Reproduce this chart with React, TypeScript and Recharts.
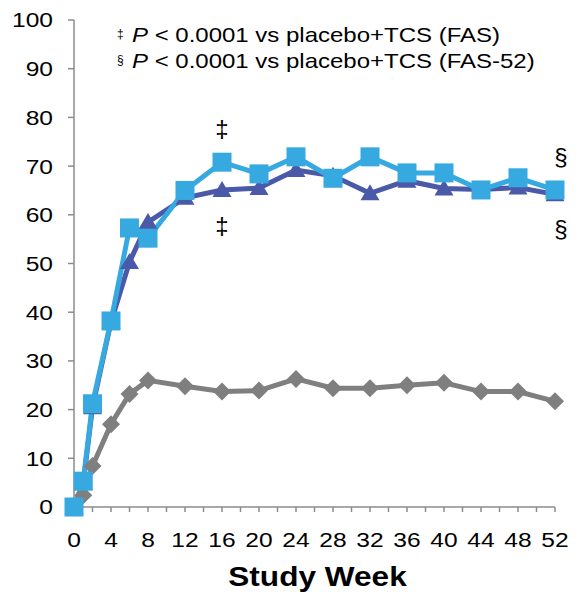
import React from 'react';
import { LineChart, Line, XAxis, YAxis, ReferenceDot } from 'recharts';

const weeks = [0, 1, 2, 4, 6, 8, 12, 16, 20, 24, 28, 32, 36, 40, 44, 48, 52];
const placebo = [0, 2.4, 8.4, 17, 23.2, 26, 24.8, 23.7, 23.9, 26.3, 24.4, 24.4, 25, 25.5, 23.7, 23.7, 21.7];
const darkSeries = [0, 5, 20.5, 38, 50.3, 58.5, 63.5, 65.1, 65.5, 69.2, 68, 64.4, 67, 65.4, 65.2, 65.6, 64.2];
const lightSeries = [0, 5.3, 21.2, 38.2, 57.3, 55.2, 65, 70.8, 68.4, 71.9, 67.5, 71.9, 68.6, 68.6, 65.1, 67.6, 65.1];
const xTicks = [0, 2, 4, 6, 8, 10, 12, 14, 16, 18, 20, 22, 24, 26, 28, 30, 32, 34, 36, 38, 40, 42, 44, 46, 48, 50, 52];
const yTicks = [0, 10, 20, 30, 40, 50, 60, 70, 80, 90, 100];
const annotations = [
  { x: 16, y: 77.8, text: '‡' },
  { x: 16, y: 57.9, text: '‡' },
  { x: 52.65, y: 72, text: '§' },
  { x: 52.65, y: 57.2, text: '§' },
];
const legendLines = [
  { mark: '‡', text: ' < 0.0001 vs placebo+TCS (FAS)' },
  { mark: '§', text: ' < 0.0001 vs placebo+TCS (FAS-52)' },
];

const data = weeks.map((w, i) => ({ week: w, placebo: placebo[i], dark: darkSeries[i], light: lightSeries[i] }));

const FONT = '"Liberation Sans", Arial, sans-serif';
const GRAY = '#7f7f7f';
const DARK = '#4b5aa8';
const LIGHT = '#36a9e1';
const AXIS = '#8c8c8c';
const SX = 1.17;

const Diamond = (props: any) => {
  const { cx, cy } = props;
  if (cx == null || cy == null) return null;
  const r = 9;
  return <path key={`d${cx}`} d={`M${cx},${cy - r}L${cx + r},${cy}L${cx},${cy + r}L${cx - r},${cy}Z`} fill={GRAY} />;
};
const Triangle = (props: any) => {
  const { cx, cy } = props;
  if (cx == null || cy == null) return null;
  return <path key={`t${cx}`} d={`M${cx},${cy - 9}L${cx + 9.5},${cy + 7}L${cx - 9.5},${cy + 7}Z`} fill={DARK} />;
};
const Square = (props: any) => {
  const { cx, cy } = props;
  if (cx == null || cy == null) return null;
  const h = 9.5;
  return <rect key={`s${cx}`} x={cx - h} y={cy - h} width={2 * h} height={2 * h} fill={LIGHT} />;
};

const XTick = (props: any) => {
  const { x, y, payload } = props;
  if (payload.value % 4 !== 0) return null;
  return (
    <g transform={`translate(${x},${y}) scale(${SX},1)`}>
      <text x={0} y={0} dy="0.71em" textAnchor="middle" fontSize={21} fontFamily={FONT} fill="#000">
        {payload.value}
      </text>
    </g>
  );
};

const YTick = (props: any) => {
  const { x, y, payload } = props;
  return (
    <g transform={`translate(${x},${y}) scale(${SX},1)`}>
      <text x={0} y={0} dy="0.355em" textAnchor="end" fontSize={21} fontFamily={FONT} fill="#000">
        {payload.value}
      </text>
    </g>
  );
};

const XLabel = (props: any) => {
  const vb = props.viewBox || {};
  const cx = vb.x + vb.width / 2 + 3;
  const by = vb.y + vb.height - 6;
  return (
    <g transform={`translate(${cx},${by}) scale(${SX},1)`}>
      <text x={0} y={0} textAnchor="middle" fontSize={27} fontWeight="bold" fontFamily={FONT} fill="#000">
        Study Week
      </text>
    </g>
  );
};

export default function App() {
  return (
    <div style={{ position: 'absolute', left: 0, top: 0, width: 579, height: 592, background: '#fff' }}>
      <LineChart width={579} height={592} data={data} margin={{ top: 20, right: 24, bottom: 0, left: 0 }}>
        <XAxis
          dataKey="week"
          type="number"
          domain={[0, 52]}
          ticks={xTicks}
          interval={0}
          height={85}
          stroke={AXIS}
          strokeWidth={1.5}
          tickSize={5}
          tickMargin={20}
          tick={<XTick />}
          label={<XLabel />}
        />
        <YAxis
          type="number"
          domain={[0, 100]}
          ticks={yTicks}
          interval={0}
          width={74}
          stroke={AXIS}
          strokeWidth={1.5}
          tickSize={6}
          tickMargin={15}
          tick={<YTick />}
        />
        <Line dataKey="placebo" stroke={GRAY} strokeWidth={5} dot={<Diamond />} isAnimationActive={false} />
        <Line dataKey="dark" stroke={DARK} strokeWidth={5} dot={<Triangle />} isAnimationActive={false} />
        <Line dataKey="light" stroke={LIGHT} strokeWidth={5} dot={<Square />} isAnimationActive={false} />
        {annotations.map((a, i) => (
          <ReferenceDot
            key={i}
            x={a.x}
            y={a.y}
            r={0}
            ifOverflow="visible"
            label={{ value: a.text, position: 'center', style: { fontSize: 24, fill: '#000', fontFamily: FONT } }}
          />
        ))}
      </LineChart>
      <svg width={579} height={90} style={{ position: 'absolute', left: 0, top: 0, pointerEvents: 'none' }}>
        {legendLines.map((l, i) => (
          <g key={i}>
            <text x={117} y={38 + i * 26} fontSize={12} fontFamily={FONT} fill="#000">
              {l.mark}
            </text>
            <g transform={`translate(132,${42 + i * 26}) scale(1.2,1)`}>
              <text x={0} y={0} fontSize={20} fontFamily={FONT} fill="#000">
                <tspan fontStyle="italic">P</tspan>
                {l.text}
              </text>
            </g>
          </g>
        ))}
      </svg>
    </div>
  );
}
